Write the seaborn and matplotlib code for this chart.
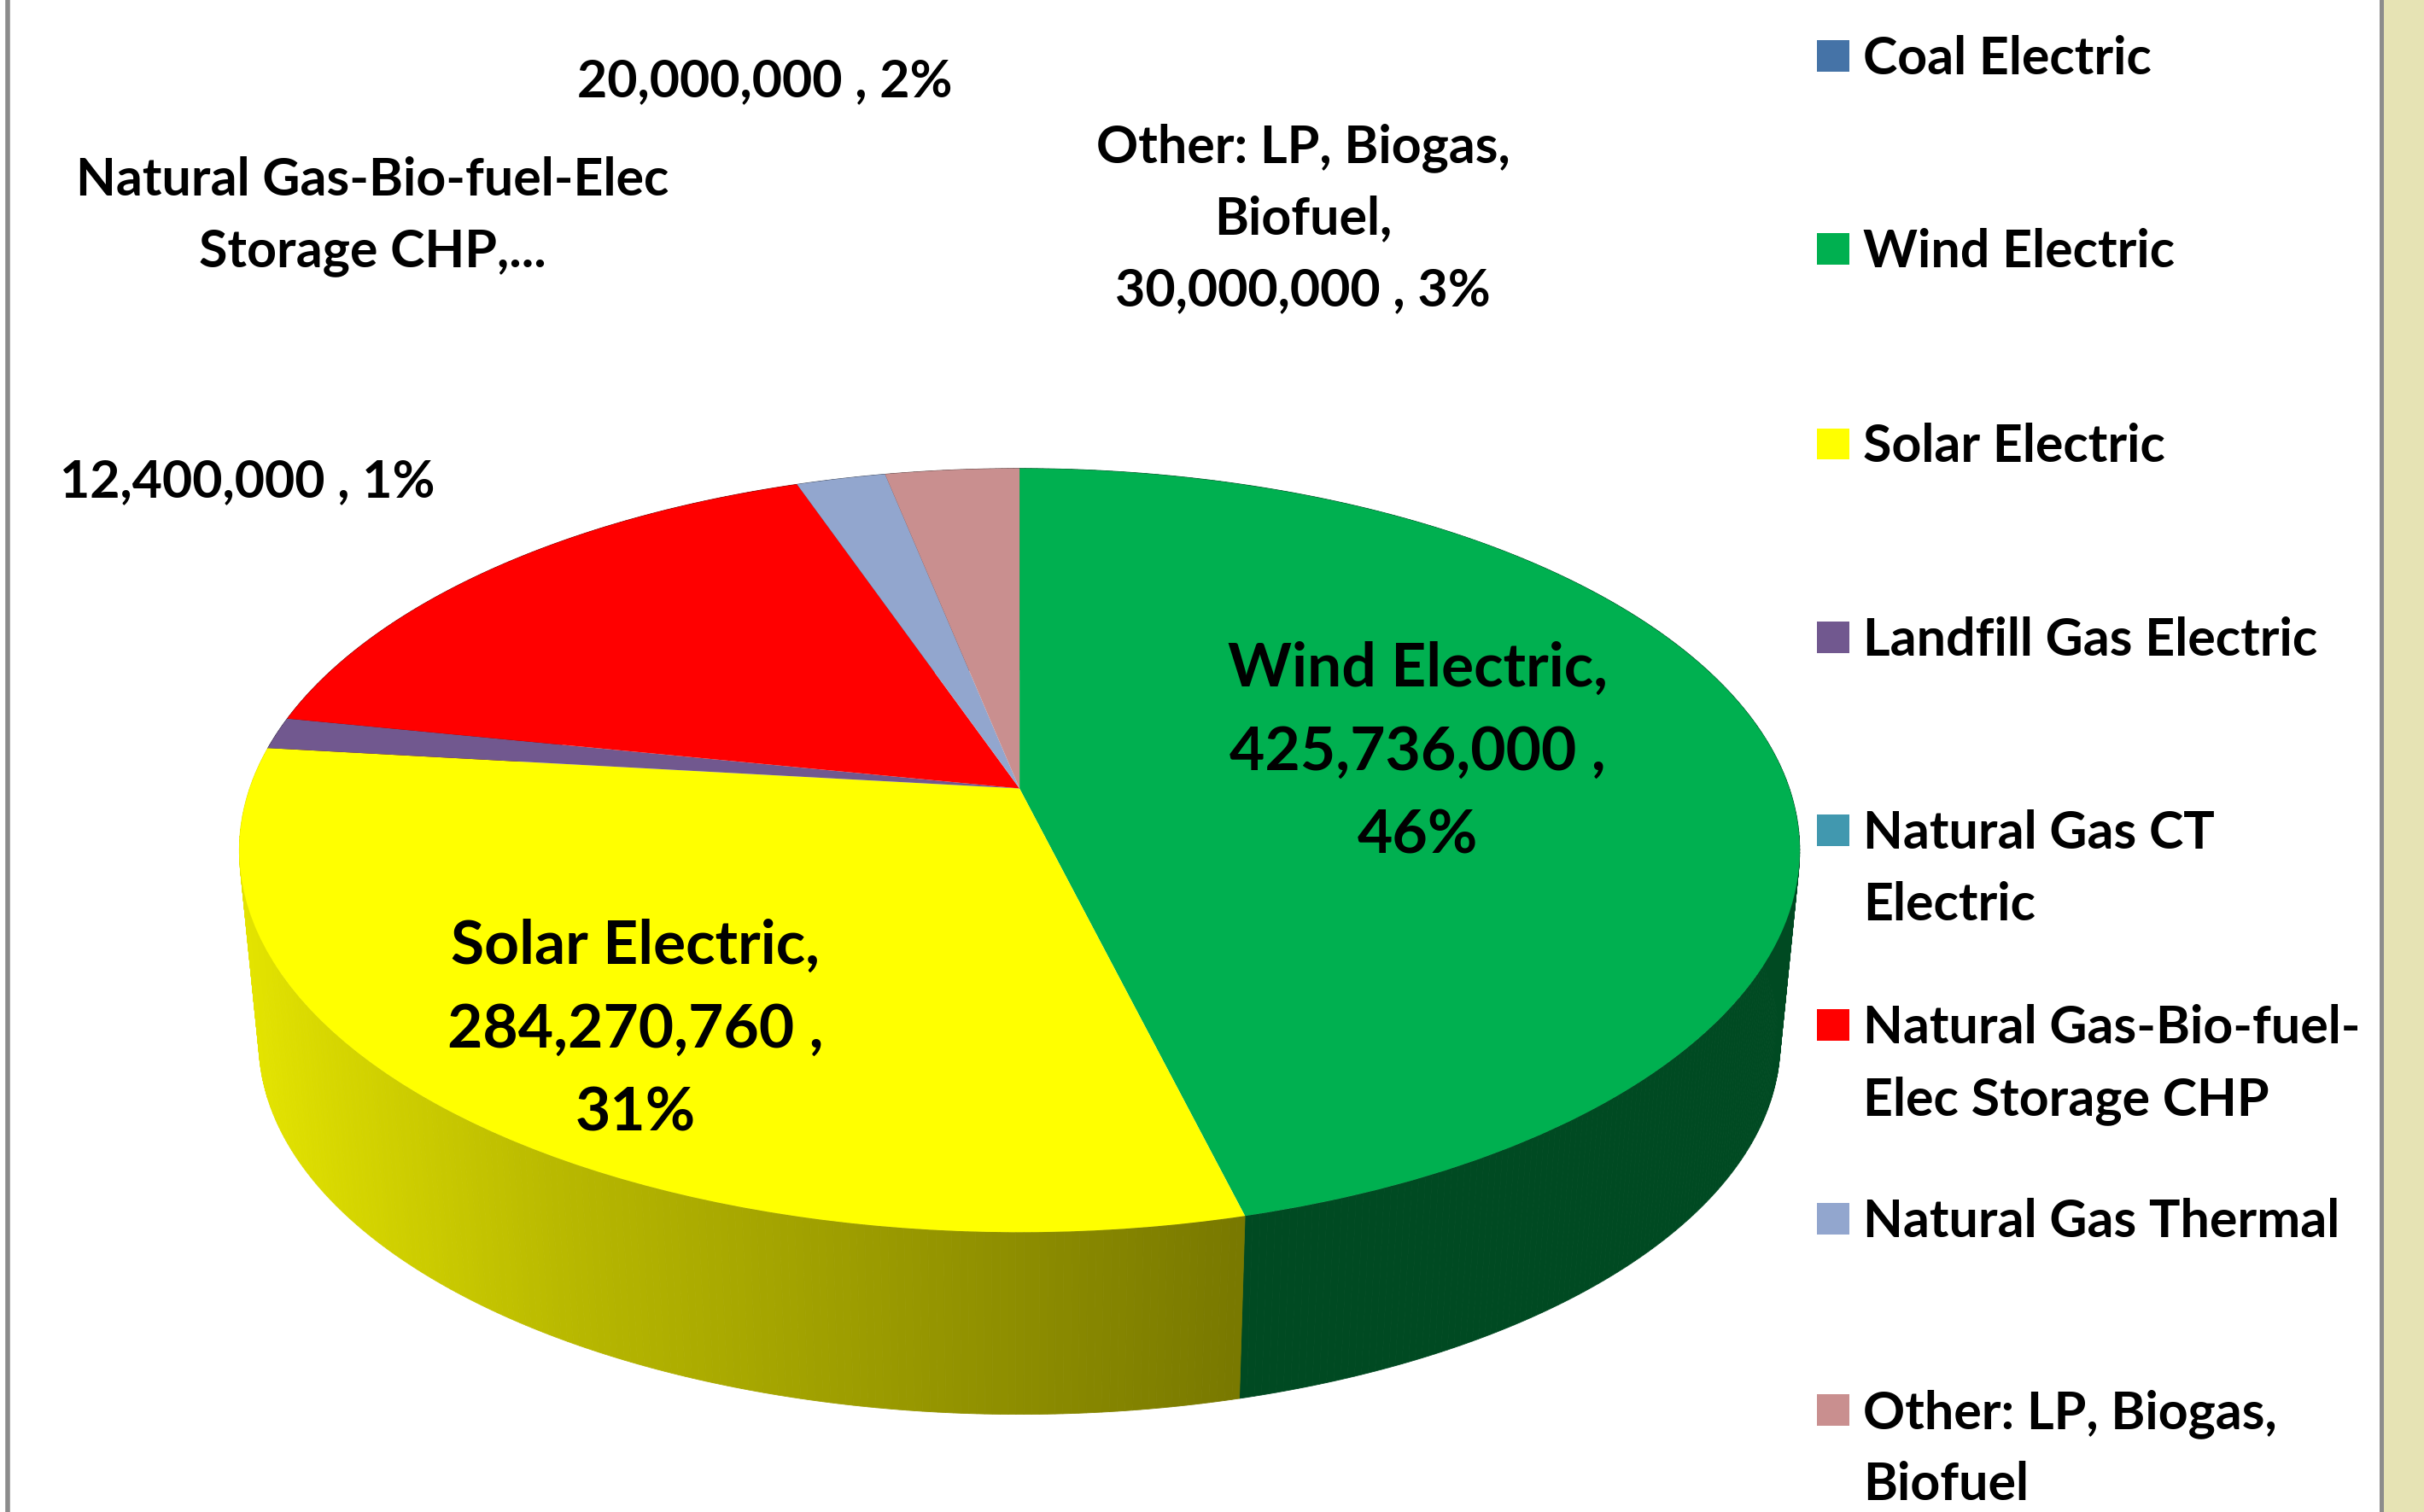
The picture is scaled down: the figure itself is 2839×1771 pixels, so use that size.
import numpy as np
import seaborn as sns
import matplotlib.pyplot as plt
from matplotlib.patches import Rectangle
from matplotlib.transforms import Transform

categories = ["Coal Electric", "Wind Electric", "Solar Electric", "Landfill Gas Electric",
              "Natural Gas CT Electric", "Natural Gas-Bio-fuel-Elec Storage CHP",
              "Natural Gas Thermal", "Other: LP, Biogas, Biofuel"]
values = [0, 425736000, 284270760, 12400000, 0, 152500000, 20000000, 30000000]
colors = ["#4573A7", "#00B050", "#FFFF00", "#71588F", "#4198AF", "#FF0000", "#92A6CE", "#C98F8F"]
legend_labels = ["Coal Electric", "Wind Electric", "Solar Electric", "Landfill Gas Electric",
                 "Natural Gas CT\nElectric", "Natural Gas-Bio-fuel-\nElec Storage CHP",
                 "Natural Gas Thermal", "Other: LP, Biogas,\nBiofuel"]
legend_y = [36, 161, 287, 412, 537, 663, 788, 912]

# pie centre and perspective, in the 1568 wide units of the axes below
CX, CY = 659.5, 510.0
A, B, P = 498.0, 240.5, 0.162
DROP, SHRINK = 125.0, 0.975

sns.set_theme(style="white")
plt.rcParams["font.family"] = ["Lato", "DejaVu Sans"]
plt.rcParams["font.weight"] = "bold"
plt.rcParams["text.color"] = "black"


class Tilt(Transform):
    """Unit disc to a disc seen from above, near edge bigger than far edge"""
    input_dims = 2
    output_dims = 2

    def __init__(self, drop=0.0, shrink=1.0):
        super().__init__()
        self.drop = drop
        self.shrink = shrink

    def transform_non_affine(self, xy):
        xy = np.asarray(xy, dtype=float)
        d = 1 + P * xy[:, 1]
        return np.column_stack([CX + self.shrink * A * xy[:, 0] / d,
                                CY + self.drop - self.shrink * B * xy[:, 1] / d])


def put_lines(ax, x, y, text, size, gap, ha="center"):
    # one text per line, y is the baseline of the first line
    for j, line in enumerate(text.split("\n")):
        ax.text(x, y + gap * j, line, ha=ha, va="baseline", fontsize=size, zorder=5)


fig = plt.figure(figsize=(28.39, 17.71), dpi=100, facecolor="white")
ax = fig.add_axes([0, 0, 1, 1])

wedges, _ = ax.pie(values, colors=colors, startangle=90, counterclock=False,
                   wedgeprops={"linewidth": 0})
ax.set_aspect("auto")
ax.set_xlim(0, 1568)
ax.set_ylim(978, 0)
ax.axis("off")

top = Tilt()
bottom = Tilt(DROP, SHRINK)
for w, name in zip(wedges, categories):
    w.set_transform(top + ax.transData)
    w.set_zorder(3)
    if w.theta2 - w.theta1 < 0.01:
        continue
    # outer wall, cut in strips so the shade can change along it
    base = np.array(w.get_facecolor()[:3])
    t = np.radians(np.linspace(w.theta1, w.theta2, int(w.theta2 - w.theta1) * 2 + 2))
    rim = np.column_stack([np.cos(t), np.sin(t)])
    up = top.transform(rim)
    low = bottom.transform(rim)
    for i in range(len(t) - 1):
        xs = [up[i, 0], up[i + 1, 0], low[i + 1, 0], low[i, 0]]
        ys = [up[i, 1], up[i + 1, 1], low[i + 1, 1], low[i, 1]]
        if name == "Solar Electric":
            shade = np.interp(np.mean(xs), [154, 246, 370, 806], [0.90, 0.82, 0.72, 0.47])
        else:
            shade = 0.42
        ax.fill(xs, ys, color=tuple(base * shade), lw=0.6, zorder=2)

# slide frame
ax.add_patch(Rectangle((1541, 0), 27, 978, color="#E6E3B4", lw=0, zorder=1))
ax.plot([1540.5, 1540.5], [0, 978], color="#8C8C8C", lw=3.6, zorder=4)
ax.plot([4.8, 4.8], [0, 978], color="#8C8C8C", lw=4, zorder=4)

total = sum(values)


def lab(i):
    return f"{values[i]:,} , {values[i] / total * 100:.0f}%"


SMALL, BIG = 43.8, 51.4
put_lines(ax, 495, 62.6, lab(6), SMALL, 46)
put_lines(ax, 160, 321.4, lab(3), SMALL, 46)
put_lines(ax, 241, 126.5, "Natural Gas-Bio-fuel-Elec\nStorage CHP,...", SMALL, 46)
put_lines(ax, 843, 105, f"Other: LP, Biogas,\nBiofuel,\n{lab(7)}", SMALL, 46.5)
put_lines(ax, 917, 444, f"Wind Electric,\n{values[1]:,} ,\n46%", BIG, 54)
put_lines(ax, 411, 623.5, f"Solar Electric,\n{values[2]:,} ,\n31%", BIG, 54)

for y, label, c in zip(legend_y, legend_labels, colors):
    ax.add_patch(Rectangle((1175.4, y - 10), 21, 20.3, color=c, lw=0, zorder=5))
    put_lines(ax, 1205, y + 12, label, SMALL, 46.5, ha="left")

fig.savefig("out.png", dpi=100, facecolor="white")
